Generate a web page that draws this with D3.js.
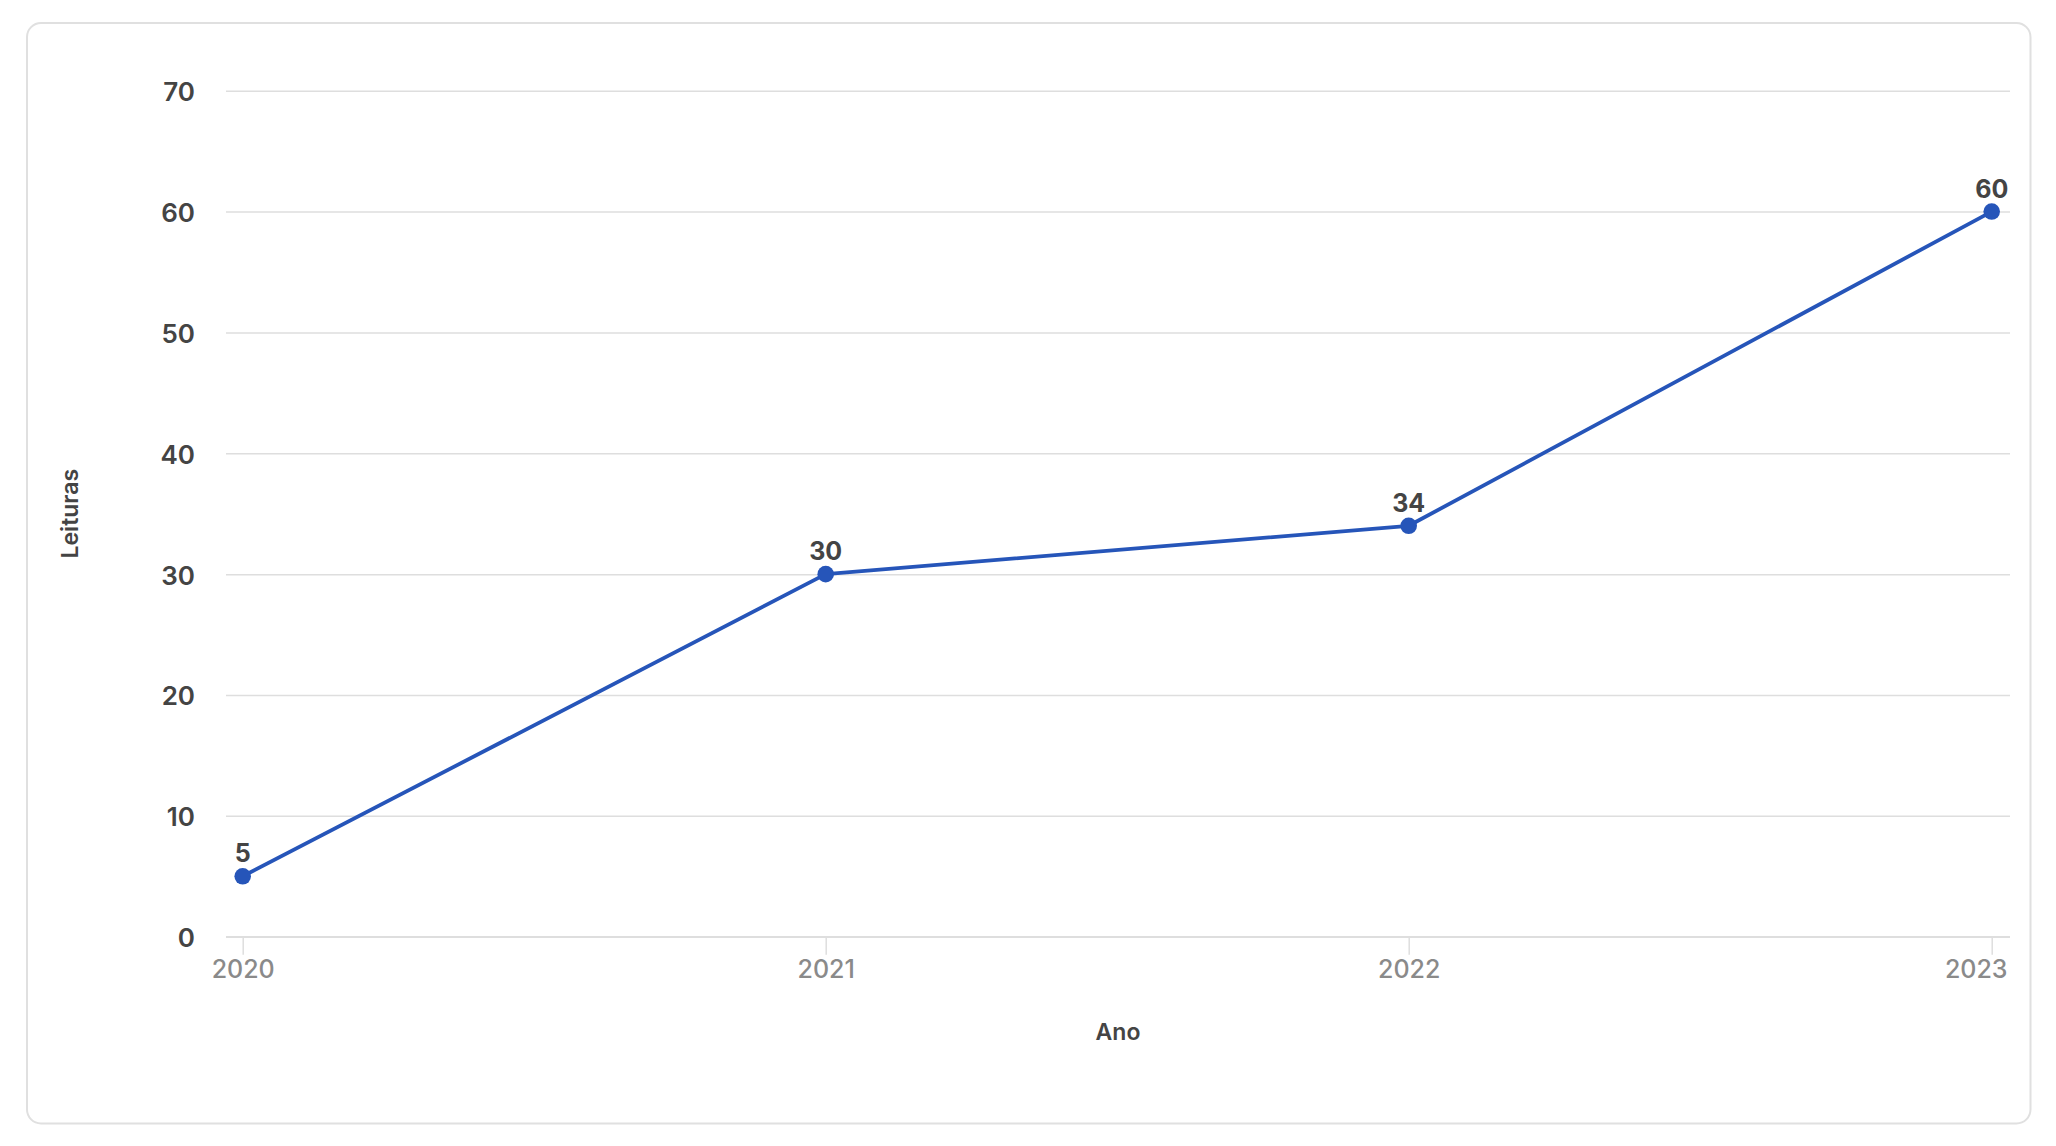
<!DOCTYPE html>
<html><head><meta charset="utf-8">
<script src="https://cdn.jsdelivr.net/npm/d3@7"></script>
<style>
html,body{margin:0;padding:0;background:#fff;}
svg{display:block;font-family:Inter,"Noto Sans",sans-serif;}
</style></head>
<body>
<svg id="c" width="2056" height="1146"></svg>
<script>
const years = [2020, 2021, 2022, 2023];
const leituras = [5, 30, 34, 60];
const yTicks = [0, 10, 20, 30, 40, 50, 60, 70];
const xTitle = "Ano";
const yTitle = "Leituras";

const svg = d3.select("#c");
const plot = {left: 226, right: 2010, top: 90.7, bottom: 936.7};
const lineColor = "#2655b9";

svg.append("rect").attr("x", 27).attr("y", 23).attr("width", 2003.5).attr("height", 1100.5)
  .attr("rx", 14).attr("fill", "#fff").attr("stroke", "#e0e0e0").attr("stroke-width", 2);

const x = d3.scaleLinear().domain([d3.min(years), d3.max(years)]).range([242.7, 1991.7]);
const y = d3.scaleLinear().domain([0, 70]).range([plot.bottom, plot.top]);

const yAxis = d3.axisLeft(y).tickValues(yTicks).tickSize(0).tickPadding(31);
const gy = svg.append("g").attr("transform", `translate(${plot.left},0)`).call(yAxis);
gy.select(".domain").remove();
gy.selectAll(".tick line").remove();
gy.selectAll(".tick").append("line").attr("x1", 0).attr("x2", plot.right - plot.left)
  .attr("stroke", "#dedede").attr("stroke-width", 1.5);
gy.selectAll(".tick text").attr("font-size", 26).attr("font-weight", 600).attr("fill", "#444")
  .attr("font-family", "Inter").attr("dy", "0.38em");

const xAxis = d3.axisBottom(x).tickValues(years).tickFormat(d3.format("d")).tickSize(18).tickPadding(6);
const gx = svg.append("g").attr("transform", `translate(0,${plot.bottom})`).call(xAxis);
gx.select(".domain").attr("d", `M${plot.left},0H${plot.right}`).attr("stroke", "#dedede").attr("stroke-width", 1.5);
gx.selectAll(".tick line").attr("stroke", "#dedede").attr("stroke-width", 1.5);
gx.selectAll(".tick text").attr("font-size", 25).attr("font-weight", 500).attr("fill", "#8a8a8a")
  .attr("font-family", "Inter");
gx.selectAll(".tick text").each(function(d){
  const bb = this.getBBox();
  const over = x(d) + bb.width/2 - (plot.right - 3);
  if (over > 0) d3.select(this).attr("x", -over);
});

const line = d3.line().x((d,i) => x(years[i])).y(d => y(d));
svg.append("path").datum(leituras).attr("d", line).attr("fill", "none")
  .attr("stroke", lineColor).attr("stroke-width", 3.8).attr("stroke-linejoin", "round");

svg.selectAll("circle.pt").data(leituras).join("circle").attr("class", "pt")
  .attr("cx", (d,i) => x(years[i])).attr("cy", d => y(d)).attr("r", 8.3).attr("fill", lineColor);

svg.selectAll("text.lbl").data(leituras).join("text").attr("class", "lbl")
  .attr("x", (d,i) => x(years[i])).attr("y", d => y(d) - 14)
  .attr("text-anchor", "middle").attr("font-size", 25).attr("font-weight", 700).attr("fill", "#444")
  .text(d => d);

svg.append("text").attr("x", (plot.left + plot.right)/2).attr("y", 1040)
  .attr("text-anchor", "middle").attr("font-size", 23).attr("font-weight", 600).attr("fill", "#444")
  .text(xTitle);
svg.append("text").attr("transform", `translate(78,${(plot.top + plot.bottom)/2}) rotate(-90)`)
  .attr("text-anchor", "middle").attr("font-size", 23).attr("font-weight", 600).attr("fill", "#444")
  .text(yTitle);
</script>
</body></html>
